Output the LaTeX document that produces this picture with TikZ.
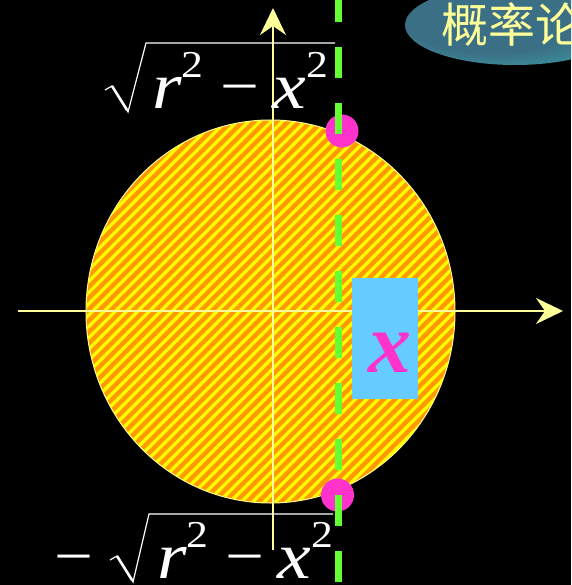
\documentclass[tikz,border=0pt]{standalone}
\usepackage{fontspec}
\usepackage{tikz}
\usetikzlibrary{arrows.meta,patterns.meta}
\newfontfamily\cjk{Noto Sans CJK SC}
\newfontfamily\timesfont{Liberation Serif}
\definecolor{axisyellow}{HTML}{FFFF99}
\definecolor{diskorange}{HTML}{FF9900}
\definecolor{stripeyellow}{HTML}{FFFF00}
\definecolor{cutgreen}{HTML}{66FF33}
\definecolor{dotpink}{HTML}{FF33CC}
\definecolor{stripblue}{HTML}{66CCFF}
\definecolor{titlecore}{HTML}{3B6F86}
\definecolor{titleteal}{HTML}{3AA3A3}
\definecolor{titlewine}{HTML}{6A1A4E}
\pgfdeclareradialshading{badge}{\pgfpoint{-8bp}{4bp}}{%
  color(0bp)=(titlecore);color(20bp)=(titlecore);
  color(36bp)=(titleteal);color(45bp)=(titleteal!45!titlewine);
  color(52bp)=(titlewine)}
% superscript two and minus of the bounds
\newcommand\supnum{\raisebox{31pt}{\upshape\fontsize{38}{38}\selectfont 2}}
\newcommand\minussign{\raisebox{2pt}{\upshape\fontsize{60}{60}\selectfont −}}
\newcommand\rootbody{\itshape r\supnum\hspace{15pt}\minussign\hspace{11pt}x\supnum}
\tikzset{
  axis/.style={draw=axisyellow,line width=1.8pt,
    -{Stealth[length=27pt,width=26pt,inset=9pt]}},
  disk/.style={draw=axisyellow,line width=1pt,fill=diskorange},
  stripes/.style={pattern={Lines[angle=45,distance=8pt,line width=3.2pt]},
    pattern color=stripeyellow},
  cut line/.style={draw=cutgreen,line width=7pt,dash pattern=on 31pt off 25pt},
  end dot/.style={circle,fill=dotpink,inner sep=0pt,minimum size=33pt},
  strip/.style={fill=stripblue,inner sep=0pt,minimum width=66pt,minimum height=121pt},
  bound/.style={text=white,inner sep=0pt,xscale=1.15,
    font=\timesfont\fontsize{66}{66}\selectfont},
  radical/.style={draw=white,line width=1.2pt,line join=miter}
}

\begin{document}
\begin{tikzpicture}[x=1pt,y=-1pt]
  \fill[black] (0,0) rectangle (571,585);
  \useasboundingbox (0,0) rectangle (571,585);
  % title badge
  \begin{scope}
    \clip (0,0) rectangle (571,585);
    \shade[shading=badge] (515,25) ellipse [x radius=110,y radius=40];
    \node[anchor=west,text=axisyellow,inner sep=0pt,
      font=\cjk\fontsize{47}{47}\selectfont] (title) at (441,25) {概率论};
  \end{scope}
  % disk
  \coordinate (o) at (270.5,311.5);
  \path[disk] (o) ellipse [x radius=184.5,y radius=191.5];
  \path[stripes] (o) ellipse [x radius=184,y radius=191];
  % axes
  \coordinate (xl) at (18,311);
  \coordinate (xr) at (563,311);
  \coordinate (yb) at (273,550);
  \coordinate (yt) at (273,8);
  \draw[axis] (xl) -- (xr);
  \draw[axis] (yb) -- (yt);
  % upper bound
  \node[bound,anchor=base west] (top) at (152,109) {\rootbody};
  \draw[radical] (105,90) -- (112,86) -- (128,112) -- (146,43) -- (335,43);
  \draw[radical,line width=2.6pt] (112,86) -- (127,110);
  % lower bound
  \node[bound,anchor=base west] (neg) at (54,578) {\minussign};
  \node[bound,anchor=base west] (bottom) at (157,578) {\rootbody};
  \draw[radical] (110,560) -- (117,556) -- (133,582) -- (149,514) -- (333,514);
  \draw[radical,line width=2.6pt] (117,556) -- (132,580);
  % strip
  \node[strip] (slice) at (385,338.5) {};
  \node[text=dotpink,inner sep=0pt,anchor=base,
    font=\timesfont\bfseries\itshape\fontsize{86}{86}\selectfont]
    (xlab) at (390,372) {x};
  % cut
  \node[end dot] (up) at (342,131) {};
  \node[end dot] (down) at (337.5,495) {};
  \coordinate (ct) at (338,-9);
  \coordinate (cb) at (338,585);
  \draw[cut line] (ct) -- (cb);
\end{tikzpicture}
\end{document}
